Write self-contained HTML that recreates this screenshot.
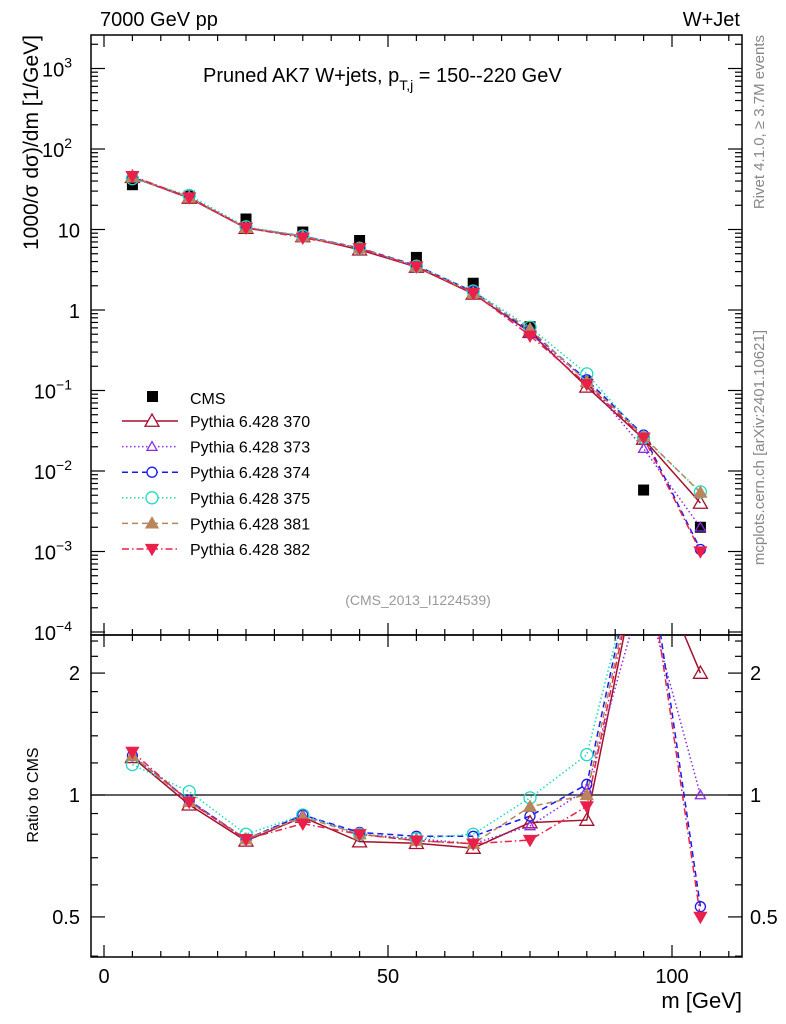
<!DOCTYPE html>
<html><head><meta charset="utf-8"><style>
html,body{margin:0;padding:0;background:#fff;}
svg{display:block;font-family:"Liberation Sans",sans-serif;}
</style></head><body>
<svg id="chart" width="786" height="1024" viewBox="0 0 786 1024"></svg>
<script>
const binCenters=[5,15,25,35,45,55,65,75,85,95,105];
const cms=[36,26,13.5,9.3,7.3,4.5,2.15,0.62,0.128,0.0058,0.0020];
const mc370=[44.6,24.6,10.4,8.2,5.6,3.42,1.59,0.53,0.111,0.025,0.0040];
const mc373=[45,25.2,10.5,8.3,5.84,3.51,1.63,0.52,0.132,0.019,0.0020];
const mc374=[45,25.2,10.5,8.3,5.9,3.56,1.70,0.55,0.136,0.028,0.00106];
const mc375=[42.8,26.5,10.8,8.3,5.84,3.51,1.72,0.61,0.161,0.026,0.0055];
const mc381=[45,25,10.5,8.2,5.84,3.47,1.63,0.58,0.128,0.0267,0.0054];
const mc382=[46,25,10.5,7.9,5.84,3.47,1.63,0.48,0.12,0.026,0.0010];
const seriesNames=["Pythia 6.428 370","Pythia 6.428 373","Pythia 6.428 374","Pythia 6.428 375","Pythia 6.428 381","Pythia 6.428 382"];
const xTicks=[0,50,100];
const ratioTicks=[0.5,1,2];

const NS="http://www.w3.org/2000/svg";
const svg=document.getElementById('chart');
function mk(tag,attrs,parent,text){const e=document.createElementNS(NS,tag);for(const k in attrs)e.setAttribute(k,attrs[k]);if(text!==undefined)e.textContent=text;(parent||svg).appendChild(e);return e;}
const L=91,R=742,T=35,M=635,B=957;
const X=v=>104+(v-0)*5.68;
const Y=v=>310-80.5*Math.log10(v);
const RY=r=>795-405*Math.log10(r);

const defs=mk('defs',{});
const c1=mk('clipPath',{id:'cm'},defs);mk('rect',{x:L,y:T,width:R-L,height:M-T},c1);
const c2=mk('clipPath',{id:'cr'},defs);mk('rect',{x:L,y:M,width:R-L,height:B-M},c2);

const styles=[
 {c:'#a3112e',d:'',m:'tri',f:false,s:7},
 {c:'#8a2be2',d:'1.5,2.5',m:'tri',f:false,s:5},
 {c:'#1a1aee',d:'6,4',m:'circ',f:false,s:5},
 {c:'#20d8c0',d:'1.5,2.5',m:'circ',f:false,s:6},
 {c:'#b8865a',d:'6,4',m:'tri',f:true,s:6},
 {c:'#e8204a',d:'7,3,1.5,3',m:'trid',f:true,s:6}
];
const mcs=[mc370,mc373,mc374,mc375,mc381,mc382];

function marker(g,st,x,y){
 const fill=st.f?st.c:'#fff',s=st.s;
 if(st.m==='tri') return mk('polygon',{points:`${x},${y-s} ${x-s},${y+s*0.75} ${x+s},${y+s*0.75}`,fill:st.f?st.c:'none',stroke:st.c,'stroke-width':1.3},g);
 if(st.m==='trid') return mk('polygon',{points:`${x},${y+s} ${x-s},${y-s*0.75} ${x+s},${y-s*0.75}`,fill:fill,stroke:st.c,'stroke-width':1.3},g);
 return mk('circle',{cx:x,cy:y,r:s,fill:'none',stroke:st.c,'stroke-width':1.3},g);
}

mk('rect',{x:L,y:T,width:R-L,height:M-T,fill:'none',stroke:'#000','stroke-width':1.5,});
mk('rect',{x:L,y:M,width:R-L,height:B-M,fill:'none',stroke:'#000','stroke-width':1.5,});

for(let v=0;v<=110;v+=5){const x=X(v),len=(v%50===0)?12:6;
 [[T,1],[M,-1],[M,1],[B,-1]].forEach(([y0,dir])=>mk('line',{x1:x,x2:x,y1:y0,y2:y0+dir*len,stroke:'#000','stroke-width':1.2}));}
xTicks.forEach(v=>{const t=mk('text',{x:X(v),y:983,'font-size':20,'text-anchor':'middle'},svg,String(v));
 });
mk('text',{x:742,y:1008,'font-size':22,'text-anchor':'end',},svg,'m [GeV]');

for(let e=-4;e<=3;e++){for(let k=1;k<10;k++){const v=k*Math.pow(10,e),y=Y(v);if(y<T||y>M)continue;const len=k===1?14:7;
 mk('line',{x1:L,x2:L+len,y1:y,y2:y,stroke:'#000','stroke-width':1.2});mk('line',{x1:R,x2:R-len,y1:y,y2:y,stroke:'#000','stroke-width':1.2});}}
const yLab=[[3,'10','3'],[2,'10','2'],[1,'10',''],[0,'1',''],[-1,'10','−1'],[-2,'10','−2'],[-3,'10','−3'],[-4,'10','−4']];
yLab.forEach(([e,b,p])=>{const y=Y(Math.pow(10,e))+8;const t=mk('text',{x:p?72:80,y:y,'font-size':20,'text-anchor':'end'},svg);
 
 mk('tspan',{},t,b);if(p){mk('tspan',{'font-size':14,dy:-9},t,p);}});
[0.4,0.5,0.6,0.7,0.8,0.9,1,1.2,1.4,1.6,1.8,2,2.2,2.4].forEach(v=>{const y=RY(v);const len=([0.5,1,2].includes(v))?14:7;
 mk('line',{x1:L,x2:L+len,y1:y,y2:y,stroke:'#000','stroke-width':1.2});mk('line',{x1:R,x2:R-len,y1:y,y2:y,stroke:'#000','stroke-width':1.2});});
ratioTicks.forEach(v=>{const y=RY(v)+7;
 const a=mk('text',{x:80,y:y,'font-size':20,'text-anchor':'end'},svg,String(v));
 const b=mk('text',{x:750,y:y,'font-size':20,'text-anchor':'start'},svg,String(v));});
mk('line',{x1:L,x2:R,y1:RY(1),y2:RY(1),stroke:'#000','stroke-width':1.3,});

const gm=mk('g',{'clip-path':'url(#cm)'});const gr=mk('g',{'clip-path':'url(#cr)'});
cms.forEach((v,j)=>{const r=mk('rect',{x:X(binCenters[j])-5.5,y:Y(v)-5.5,width:11,height:11,fill:'#000'},gm);
 });
mcs.forEach((arr,i)=>{const st=styles[i];
 const pts=arr.map((v,j)=>`${X(binCenters[j])},${Y(v)}`).join(' ');
 const pl=mk('polyline',{points:pts,fill:'none',stroke:st.c,'stroke-width':1.5,'stroke-dasharray':st.d},gm);
 
 const rp=arr.map((v,j)=>`${X(binCenters[j])},${RY(v/cms[j])}`).join(' ');
 const rl=mk('polyline',{points:rp,fill:'none',stroke:st.c,'stroke-width':1.5,'stroke-dasharray':st.d},gr);
 
});
mcs.forEach((arr,i)=>{const st=styles[i];
 arr.forEach((v,j)=>{const m=marker(gm,st,X(binCenters[j]),Y(v));
  const m2=marker(gr,st,X(binCenters[j]),RY(v/cms[j]));});});

const lg=mk('g',{});
mk('rect',{x:147,y:391,width:11,height:11,fill:'#000'},lg);
mk('text',{x:190,y:404,'font-size':16},lg,'CMS');
seriesNames.forEach((n,i)=>{const st=styles[i],y=421+i*25.6;
 const e=mk('g',{},lg);
 mk('line',{x1:122,x2:178,y1:y,y2:y,stroke:st.c,'stroke-width':1.5,'stroke-dasharray':st.d},e);
 if(st.m==='circ'){mk('circle',{cx:152,cy:y,r:st.s,fill:'#fff',stroke:st.c,'stroke-width':1.3},e);}
 else {const m=marker(e,st,152,y);if(!st.f)m.setAttribute('fill','#fff');}
 mk('text',{x:190,y:y+6,'font-size':16},e,n);});

mk('text',{x:100,y:26,'font-size':20,},svg,'7000 GeV pp');
mk('text',{x:740,y:26,'font-size':20,'text-anchor':'end',},svg,'W+Jet');
const tt=mk('text',{x:203,y:82,'font-size':20,},svg,'Pruned AK7 W+jets, p');
mk('tspan',{'font-size':14,dy:8},tt,'T,j');mk('tspan',{dy:-8},tt,' = 150--220 GeV');
mk('text',{x:418,y:605,'font-size':14,fill:'#999','text-anchor':'middle',},svg,'(CMS_2013_I1224539)');
mk('text',{transform:'translate(38,35) rotate(-90)','font-size':21,'text-anchor':'end',},svg,'1000/σ   dσ)/dm [1/GeV]');
mk('text',{transform:'translate(38,795) rotate(-90)','font-size':16,'text-anchor':'middle',},svg,'Ratio to CMS');
mk('text',{transform:'translate(764,35) rotate(-90)','font-size':15,fill:'#888','text-anchor':'end',},svg,'Rivet 4.1.0, ≥ 3.7M events');
mk('text',{transform:'translate(764,330) rotate(-90)','font-size':15,fill:'#888','text-anchor':'end',},svg,'mcplots.cern.ch [arXiv:2401.10621]');
</script>
</body></html>
